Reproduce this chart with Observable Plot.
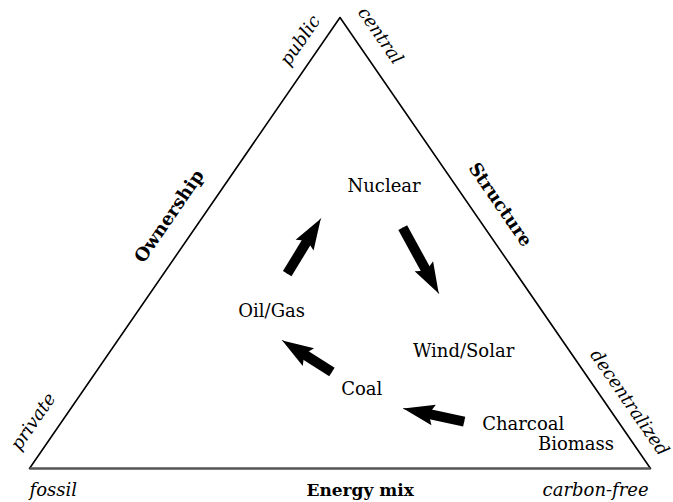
<!DOCTYPE html>
<html><head><meta charset="utf-8">
<script src="https://cdn.jsdelivr.net/npm/d3@7"></script>
<script src="https://cdn.jsdelivr.net/npm/@observablehq/plot@0.6"></script>
<style>body{margin:0;background:#fff;overflow:hidden}</style>
</head><body><div id="chart"></div>
<script>
// Triangle corners (data space: base 0..100, height 0..100)
const cornerNames = ["fossil / private", "public / central", "carbon-free / decentralized"];
const cornerX = [0, 50, 100];
const cornerY = [0, 100, 0];

// Energy sources placed inside the triangle
const sources = ["Nuclear", "Oil/Gas", "Wind/Solar", "Coal", "Charcoal", "Biomass"];
const sourceX = [57.1, 39.0, 69.9, 53.5, 79.5, 88.0];
const sourceY = [61.2, 33.5, 24.8, 16.2, 8.6, 4.2];

// Transition arrows
const arrowFrom = ["Oil/Gas", "Nuclear", "Coal", "Charcoal"];
const arrowTo = ["Nuclear", "Wind/Solar", "Oil/Gas", "Coal"];
const tailX = [41.5, 60.1, 48.7, 70.0];
const tailY = [43.2, 53.4, 21.4, 10.4];
const tipX = [46.9, 65.9, 40.7, 60.2];
const tipY = [55.4, 38.8, 28.4, 13.3];

// Side titles
const leftTitle = "Ownership", leftTitleX = 22.5, leftTitleY = 55.9;
const rightTitle = "Structure", rightTitleX = 75.8, rightTitleY = 58.5;
const baseTitle = "Energy mix", baseTitleX = 44.6, baseTitleY = -6.2;

// Pole labels
const leftPoles = ["private", "public"];
const leftPoleX = [0.6, 43.6];
const leftPoleY = [10.4, 94.9];
const rightPoles = ["central", "decentralized"];
const rightPoleX = [56.5, 96.6];
const rightPoleY = [96.0, 14.6];
const fossilLabel = "fossil", fossilX = 0, fossilY = -6.0;
const carbonFreeLabel = "carbon-free", carbonFreeX = 99.7, carbonFreeY = -6.0;

const corners = cornerNames.map((n, i) => ({n, x: cornerX[i], y: cornerY[i]}));
const srcData = sources.map((s, i) => ({s, x: sourceX[i], y: sourceY[i]}));
const arrows = arrowFrom.map((f, i) => ({f, t: arrowTo[i], x1: tailX[i], y1: tailY[i], x2: tipX[i], y2: tipY[i]}));
const lp = leftPoles.map((t, i) => ({t, x: leftPoleX[i], y: leftPoleY[i]}));
const rp = rightPoles.map((t, i) => ({t, x: rightPoleX[i], y: rightPoleY[i]}));

function blockHead(color, context) {
  const m = d3.create("svg:marker")
    .attr("viewBox", "-6 -12 36 24")
    .attr("markerWidth", 36).attr("markerHeight", 24)
    .attr("markerUnits", "userSpaceOnUse")
    .attr("refX", 27).attr("refY", 0)
    .attr("orient", "auto");
  m.append("path").attr("fill", "black").attr("stroke", "none")
    .attr("d", "M-4,-10.5L27,0L-4,10.5L1,0Z");
  return m.node();
}

const chart = Plot.plot({
  width: 673, height: 502,
  marginLeft: 29, marginRight: 23, marginTop: 17, marginBottom: 34,
  x: {domain: [0, 100], axis: null},
  y: {domain: [0, 100], axis: null},
  style: {fontFamily: "DejaVu Serif", background: "white", color: "black"},
  marks: [
    Plot.line(corners, {x: "x", y: "y", stroke: "black", strokeWidth: 1.6}),
    Plot.link([corners[0]], {x1: "x", y1: "y", x2: () => corners[2].x, y2: () => corners[2].y, stroke: "#555", strokeWidth: 2.4}),
    Plot.arrow(arrows, {x1: "x1", y1: "y1", x2: "x2", y2: "y2", headLength: 0, insetEnd: 22, strokeWidth: 10, stroke: "black", strokeLinecap: "butt"}),
    Plot.link(arrows, {x1: "x1", y1: "y1", x2: "x2", y2: "y2", stroke: "black", strokeWidth: 1, markerEnd: blockHead}),
    Plot.text(srcData, {x: "x", y: "y", text: "s", fontSize: 18, lineAnchor: "bottom", textAnchor: "middle"}),
    Plot.text([leftTitle], {x: () => leftTitleX, y: () => leftTitleY, text: d => d, rotate: -55.5, fontSize: 18, fontWeight: "bold"}),
    Plot.text([rightTitle], {x: () => rightTitleX, y: () => rightTitleY, text: d => d, rotate: 55.5, fontSize: 18, fontWeight: "bold"}),
    Plot.text([baseTitle], {x: () => baseTitleX, y: () => baseTitleY, text: d => d, fontSize: 17, fontWeight: "bold", textAnchor: "start", lineAnchor: "bottom"}),
    Plot.text(lp, {x: "x", y: "y", text: "t", rotate: -55.5, fontSize: 18, fontStyle: "italic"}),
    Plot.text(rp, {x: "x", y: "y", text: "t", rotate: 55.5, fontSize: 18, fontStyle: "italic"}),
    Plot.text([fossilLabel], {x: () => fossilX, y: () => fossilY, text: d => d, fontSize: 18, fontStyle: "italic", lineAnchor: "bottom", textAnchor: "start"}),
    Plot.text([carbonFreeLabel], {x: () => carbonFreeX, y: () => carbonFreeY, text: d => d, fontSize: 18, fontStyle: "italic", lineAnchor: "bottom", textAnchor: "end"})
  ]
});
document.getElementById("chart").append(chart);
</script>
</body></html>
